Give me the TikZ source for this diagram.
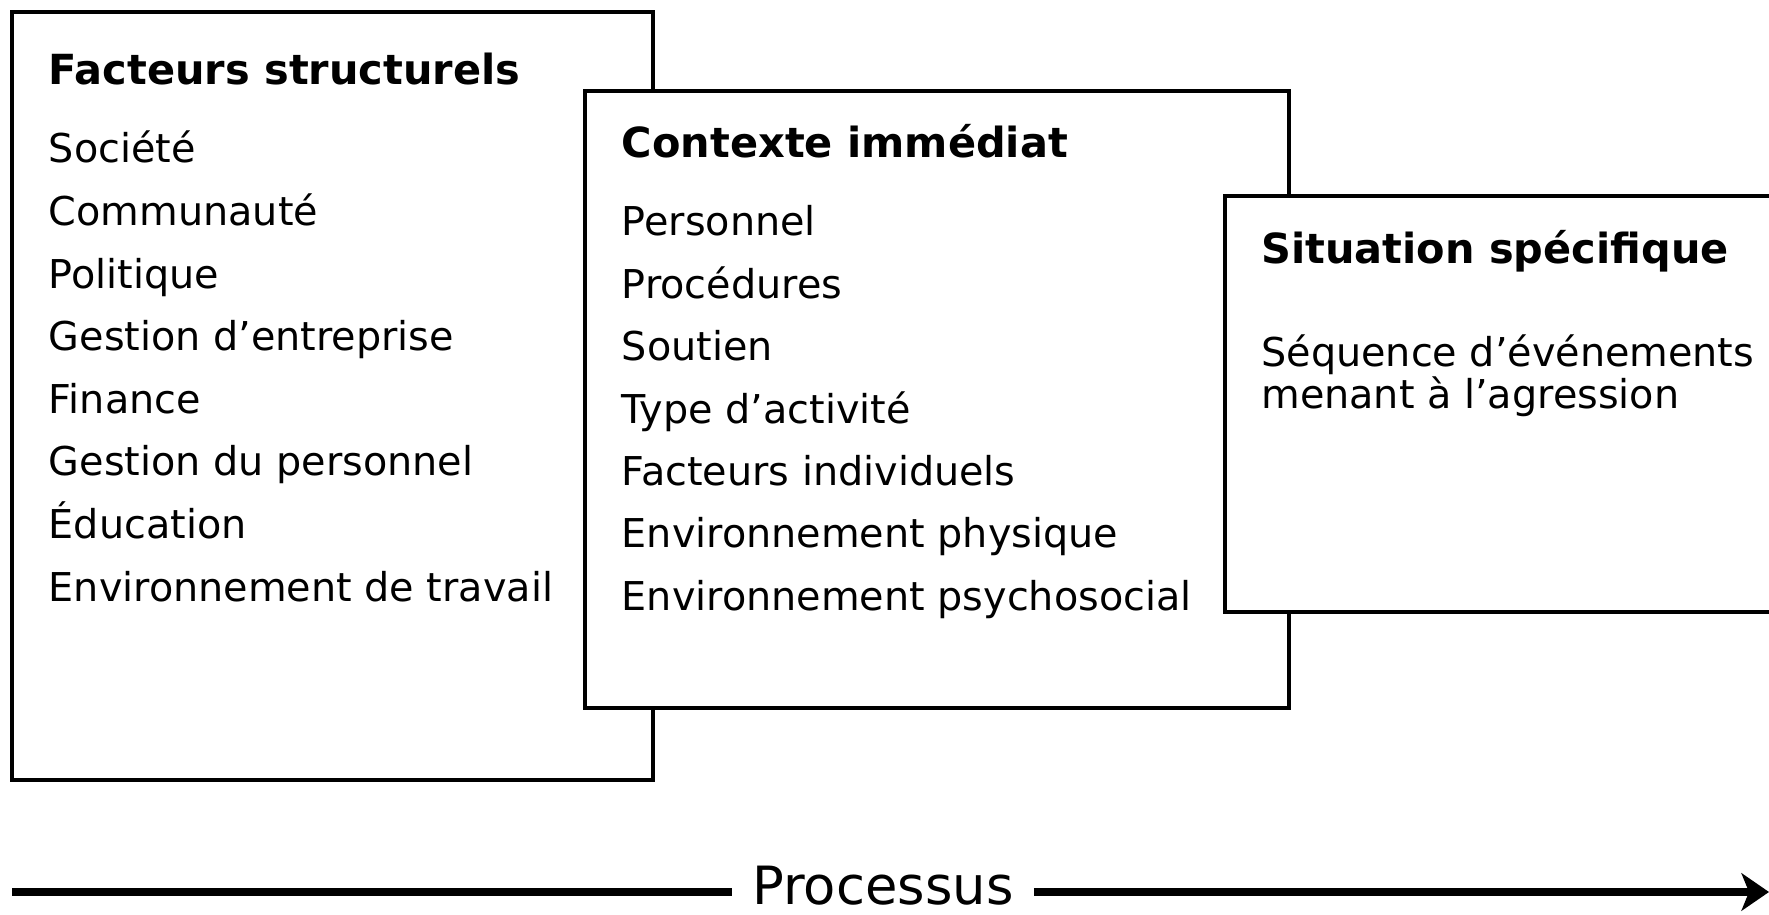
\documentclass[tikz,border=0pt]{standalone}
\usepackage{fontspec}
\setmainfont{DejaVu Sans}
\usetikzlibrary{arrows.meta}

\tikzset{
    box/.style={line width=2.2pt, fill=white},
    item/.style={anchor=base west, inner sep=0pt, font=\fontsize{22.6}{27}\selectfont},
    heading/.style={item, font=\fontsize{23.6}{27}\selectfont\bfseries}
}

\begin{document}
\begin{tikzpicture}
    \useasboundingbox (0, 0) rectangle (35.38, 18.3);
    \fill[white] (0, 0) rectangle (35.38, 18.3);

    % Facteurs structurels
    \draw[box] (0.24, 2.7) rectangle (13.06, 18.06);
    \node[heading] (fs) at (0.97, 16.6) {Facteurs structurels};
    \foreach \t [count=\i] in {Société, Communauté, Politique, Gestion d’entreprise, Finance, Gestion du personnel, Éducation, Environnement de travail}
        \node[item] (fs\i) at (0.97, 15.04 - 1.252*\i + 1.252) {\t};

    % Contexte immediat
    \draw[box] (11.7, 4.14) rectangle (25.78, 16.48);
    \node[heading] (ci) at (12.43, 15.14) {Contexte immédiat};
    \foreach \t [count=\i] in {Personnel, Procédures, Soutien, Type d’activité, Facteurs individuels, Environnement physique, Environnement psychosocial}
        \node[item] (ci\i) at (12.43, 13.58 - 1.248*\i + 1.248) {\t};

    % Situation specifique
    \draw[box] (24.5, 6.06) rectangle (36.5, 14.38);
    \node[heading] (ss) at (25.22, 13.02) {Situation spécifique};
    \node[item] (ss1) at (25.22, 10.96) {Séquence d’événements};
    \node[item] (ss2) at (25.22, 10.12) {menant à l’agression};

    % Processus
    \coordinate (p0) at (0.24, 0.46);
    \coordinate (p1) at (35.38, 0.46);
    \node[font=\fontsize{30}{34}\selectfont, inner sep=0pt] (proc) at (17.66, 0.58) {Processus};
    \draw[line width=4pt] (p0) -- ([xshift=-0.4cm]proc.west |- p0);
    \draw[line width=4pt, -{Stealth[length=0.55cm, width=0.75cm, inset=0.15cm]}] ([xshift=0.4cm]proc.east |- p1) -- (p1);
\end{tikzpicture}
\end{document}
